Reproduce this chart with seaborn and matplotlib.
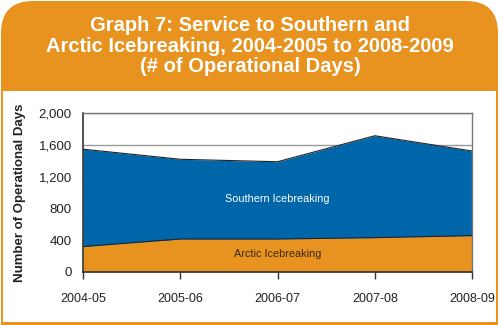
import numpy as np
import pandas as pd
import matplotlib
matplotlib.use("Agg")
import matplotlib.pyplot as plt
from matplotlib.patches import FancyBboxPatch, Rectangle
import seaborn as sns

years = ["2004-05", "2005-06", "2006-07", "2007-08", "2008-09"]
arctic = [320, 415, 415, 432, 457]
southern = [1225, 1003, 972, 1282, 1065]
yticks = [0, 400, 800, 1200, 1600, 2000]
title = "Graph 7: Service to Southern and\nArctic Icebreaking, 2004-2005 to 2008-2009\n(# of Operational Days)"

ORANGE = "#E8921F"
BLUE = "#0066AA"

sns.set_style("white")
plt.rcParams['font.family'] = ['Liberation Sans', 'DejaVu Sans']

fig = plt.figure(figsize=(5, 3.25), dpi=100)

# background banner in pixel units
bg = fig.add_axes([0, 0, 1, 1])
bg.set_xlim(0, 500)
bg.set_ylim(325, 0)
bg.axis("off")
bg.add_patch(FancyBboxPatch((1, 1), 497, 360, boxstyle="round,pad=0,rounding_size=32",
                            facecolor=ORANGE, edgecolor="none"))
bg.add_patch(Rectangle((3, 91), 493, 231, facecolor="white", edgecolor="none"))
bg.text(250, 46, title, color="white", fontsize=14.5, fontweight="bold",
        ha="center", va="center", linespacing=1.08)

ax = fig.add_axes([83/500, 53/325, 389/500, 159/325])
df = pd.DataFrame({"year": years, "arctic": arctic, "southern": southern})
df["total"] = df["arctic"] + df["southern"]
x = np.arange(len(years))

ax.set_axisbelow(True)
ax.yaxis.grid(True, color="#999999", linewidth=1.0)
ax.fill_between(x, 0, df["arctic"], color=ORANGE, linewidth=0, zorder=2)
ax.fill_between(x, df["arctic"], df["total"], color=BLUE, linewidth=0, zorder=2)
sns.lineplot(x=x, y=df["arctic"], ax=ax, color="#222222", linewidth=0.8, zorder=3)
sns.lineplot(x=x, y=df["total"], ax=ax, color="#222222", linewidth=0.8, zorder=3)

ax.set_xlim(0, len(years) - 1)
ax.set_ylim(0, 2000)
ax.set_xticks(x)
ax.set_xticklabels(years, fontsize=9, color="#222222")
ax.set_yticks(yticks)
ax.set_yticklabels([f"{v:,}" for v in yticks], fontsize=9.5, color="#222222")
ax.tick_params(axis="x", length=5, width=1, color="#333333", pad=10, bottom=True)
ax.tick_params(axis="y", length=0, pad=8)
ax.set_xlabel("")
ax.set_ylabel("Number of Operational Days", fontsize=9.5, fontweight="bold",
              color="#222222", labelpad=9)

for s in ["left", "bottom"]:
    ax.spines[s].set_color("#333333")
    ax.spines[s].set_linewidth(1.2)
for s in ["top", "right"]:
    ax.spines[s].set_color("#777777")
    ax.spines[s].set_linewidth(1.0)

ax.text(2, 918, "Southern Icebreaking", color="white", fontsize=7.8,
        ha="center", va="center", zorder=4)
ax.text(2, 226, "Arctic Icebreaking", color="#3a2a10", fontsize=7.8,
        ha="center", va="center", zorder=4)

fig.savefig("out.png", dpi=100)
